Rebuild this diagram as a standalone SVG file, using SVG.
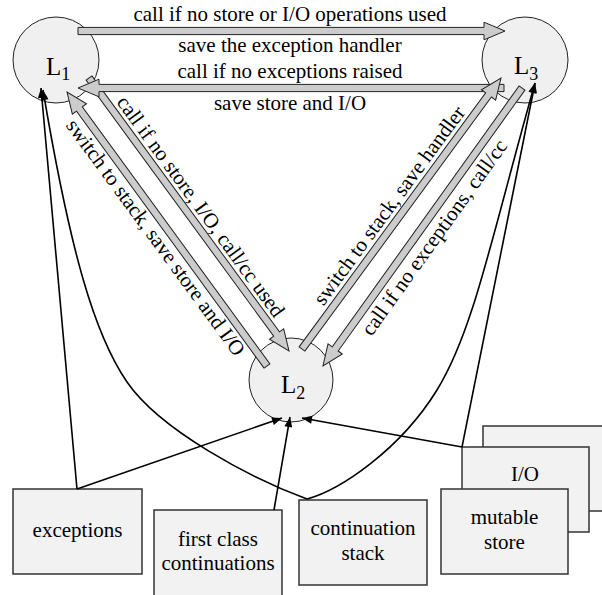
<svg xmlns="http://www.w3.org/2000/svg" width="602" height="595" viewBox="0 0 602 595" font-family="'Liberation Serif','Times New Roman',serif">
<defs>
<style>
text{font-family:"Liberation Serif","Times New Roman",serif;font-size:21px;fill:#000}
.lbl{text-anchor:middle}
.node circle{fill:#f0f0f0;stroke:#222;stroke-width:1}
.box rect{fill:#f2f2f2;stroke:#333;stroke-width:1.5}
.big{fill:#cccccc;stroke:#222;stroke-width:1}
.thin{fill:none;stroke:#000;stroke-width:1.6;marker-end:url(#ah)}
.L{font-size:25px}
.sub{font-size:18px}
</style>
<marker id="ah" markerUnits="userSpaceOnUse" viewBox="0 0 10 8" refX="10" refY="4" markerWidth="11" markerHeight="8" orient="auto">
<path d="M0,0 L10,4 L0,8 z" fill="#000"/>
</marker>
</defs>
<rect width="602" height="595" fill="#fff"/>

<g id="L1" class="node"><circle cx="56" cy="60" r="43"/><text class="L" x="46" y="75">L<tspan class="sub" dy="5">1</tspan></text></g>
<g id="L3" class="node"><circle cx="525" cy="60" r="43"/><text class="L" x="514" y="74">L<tspan class="sub" dy="6">3</tspan></text></g>
<g id="L2" class="node"><circle cx="291" cy="380" r="42"/><text class="L" x="281" y="393">L<tspan class="sub" dy="6">2</tspan></text></g>

<g id="box-exceptions" class="box"><rect x="13" y="489" width="129" height="85"/><text class="lbl" x="77.5" y="537">exceptions</text></g>
<g id="box-firstclass" class="box"><rect x="154" y="510" width="128" height="100"/><text class="lbl" x="218" y="546">first class</text><text class="lbl" x="218" y="570">continuations</text></g>
<g id="box-contstack" class="box"><rect x="299" y="500" width="128" height="85"/><text class="lbl" x="363" y="535">continuation</text><text class="lbl" x="363" y="560">stack</text></g>
<g id="box-back" class="box"><rect x="483" y="426" width="130" height="85"/></g>
<g id="box-io" class="box"><rect x="462" y="447" width="127" height="85"/><text class="lbl" x="525" y="481">I/O</text></g>
<g id="box-store" class="box"><rect x="441" y="489" width="127" height="85"/><text class="lbl" x="504.5" y="524">mutable</text><text class="lbl" x="504.5" y="549">store</text></g>

<g id="connectors">
<polygon class="big" transform="translate(89,78) rotate(53.77)" points="0,-3.6 317.4,-3.6 317.4,-8.8 338.4,0 317.4,8.8 317.4,3.6 0,3.6"/>
<polygon class="big" transform="translate(267,366) rotate(-126.12)" points="0,-3.6 318.2,-3.6 318.2,-8.8 339.2,0 318.2,8.8 318.2,3.6 0,3.6"/>
<polygon class="big" points="78,27.4 484,27.4 484,22.2 505,31 484,39.8 484,34.6 78,34.6"/>
<polygon class="big" points="504,84.4 99,84.4 99,79.2 78,88 99,96.8 99,91.6 504,91.6"/>
<polygon class="big" transform="translate(302,349) rotate(-53.71)" points="0,-3.6 315.2,-3.6 315.2,-8.8 336.2,0 315.2,8.8 315.2,3.6 0,3.6"/>
<polygon class="big" transform="translate(522,88) rotate(125.6)" points="0,-3.6 320.9,-3.6 320.9,-8.8 341.9,0 320.9,8.8 320.9,3.6 0,3.6"/>

<path class="thin" d="M77,489 L41,88"/>
<path class="thin" d="M307,499 C250,478 160,430 127,382 S70,250 43,90"/>
<path class="thin" d="M307,499 C340,490 400,450 437,390 S492,235 535,83"/>
<path class="thin" d="M462,447 L535,83"/>
<path class="thin" d="M77,489 L282,418"/>
<path class="thin" d="M274,510 L290,417"/>
<path class="thin" d="M462,447 L302,418"/>

<text class="lbl" x="290" y="21">call if no store or I/O operations used</text>
<text class="lbl" x="290" y="52">save the exception handler</text>
<text class="lbl" x="290" y="78">call if no exceptions raised</text>
<text class="lbl" x="290" y="110">save store and I/O</text>
<text class="lbl" transform="translate(200,207) rotate(53.77)" x="0" y="6">call if no store, I/O, call/cc used</text>
<text class="lbl" transform="translate(155,238) rotate(53.8)" x="0" y="6">switch to stack, save store and I/O</text>
<text class="lbl" transform="translate(390,206) rotate(-53.7)" x="0" y="6">switch to stack, save handler</text>
<text class="lbl" transform="translate(435,238) rotate(-54.4)" x="0" y="6">call if no exceptions, call/cc</text>
</g>
</svg>
